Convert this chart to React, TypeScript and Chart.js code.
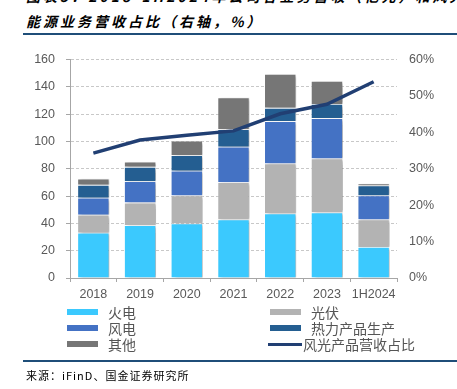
import React, { useEffect, useRef } from "react";
import { Chart, registerables } from "chart.js";

Chart.register(...registerables);

const categories = ["2018", "2019", "2020", "2021", "2022", "2023", "1H2024"];
const thermal = [33.2, 38.6, 40.0, 42.9, 47.2, 48.0, 22.7];
const solar = [13.1, 16.6, 20.5, 27.2, 36.7, 39.5, 20.2];
const wind = [12.5, 15.6, 18.1, 26.0, 31.0, 29.6, 17.6];
const heat = [9.4, 10.6, 11.3, 12.8, 9.7, 10.4, 7.2];
const other = [4.6, 3.7, 10.6, 23.4, 24.8, 16.8, 1.5];
const windSolarShare = [34.3, 37.9, 39.2, 40.4, 45.1, 47.7, 53.9];
const leftTicks = [0, 20, 40, 60, 80, 100, 120, 140, 160];
const rightTicks = [0, 10, 20, 30, 40, 50, 60];

const C_THERMAL = "#3BC9FE";
const C_SOLAR = "#B3B3B3";
const C_WIND = "#4472C4";
const C_HEAT = "#245E91";
const C_OTHER = "#767676";
const C_LINE = "#213F73";
const RULE = "#1F4E79";

const shadowPlugin = {
  id: "barShadow",
  beforeDatasetDraw(chart: any, args: any) {
    if (args.meta.type === "bar") {
      const ctx = chart.ctx;
      ctx.save();
      ctx.shadowColor = "rgba(0,0,0,0.28)";
      ctx.shadowBlur = 3;
      ctx.shadowOffsetX = 3;
      ctx.shadowOffsetY = 1;
    }
  },
  afterDatasetDraw(chart: any, args: any) {
    if (args.meta.type === "bar") {
      chart.ctx.restore();
    }
  },
};

export default function App() {
  const ref = useRef<HTMLCanvasElement | null>(null);

  useEffect(() => {
    document.body.style.margin = "0";
    const barDs = (label: string, data: number[], color: string) => ({
      type: "bar" as const,
      label,
      data,
      backgroundColor: color,
      borderColor: "rgba(255,255,255,0.45)",
      borderWidth: 0.8,
      yAxisID: "y",
      order: 2,
      stack: "s",
      categoryPercentage: 1,
      barPercentage: 0.685,
    });
    const chart = new Chart(ref.current as HTMLCanvasElement, {
      type: "bar",
      data: {
        labels: categories,
        datasets: [
          barDs("火电", thermal, C_THERMAL),
          barDs("光伏", solar, C_SOLAR),
          barDs("风电", wind, C_WIND),
          barDs("热力产品生产", heat, C_HEAT),
          barDs("其他", other, C_OTHER),
          {
            type: "line" as const,
            label: "风光产品营收占比",
            data: windSolarShare,
            borderColor: C_LINE,
            borderWidth: 3.5,
            pointRadius: 0,
            tension: 0,
            yAxisID: "y1",
            order: 0,
          } as any,
        ],
      },
      options: {
        animation: false,
        responsive: false,
        maintainAspectRatio: false,
        layout: { padding: { top: 17, left: 0, right: 0, bottom: 0 } },
        plugins: {
          legend: { display: false },
          tooltip: { enabled: false },
          title: { display: false },
        },
        scales: {
          x: {
            stacked: true,
            offset: true,
            grid: {
              display: true,
              offset: true,
              drawOnChartArea: false,
              drawTicks: true,
              tickLength: 4,
              color: "#A6A6A6",
            },
            border: { display: true, color: "#A6A6A6", width: 1 },
            ticks: {
              color: "#595959",
              font: { family: "Liberation Sans, Arial, sans-serif", size: 12.5 },
              padding: 5,
              maxRotation: 0,
              autoSkip: false,
            },
            afterFit(scale: any) {
              scale.height = 32;
            },
          },
          y: {
            stacked: true,
            position: "left",
            min: 0,
            max: 160,
            afterBuildTicks(scale: any) {
              scale.ticks = leftTicks.map((v) => ({ value: v }));
            },
            grid: {
              color: (c: any) => (c.tick && c.tick.value === 0 ? "rgba(0,0,0,0)" : "#C8C8C8"),
              lineWidth: 1,
              drawTicks: true,
              tickLength: 4,
              tickColor: "#A6A6A6",
            },
            border: { display: true, color: "#A6A6A6", width: 1, dash: [3, 2] },
            ticks: {
              color: "#595959",
              font: { family: "Liberation Sans, Arial, sans-serif", size: 12.5 },
              padding: 11,
            },
            afterFit(scale: any) {
              scale.width = 70;
            },
          },
          y1: {
            position: "right",
            min: 0,
            max: 60,
            afterBuildTicks(scale: any) {
              scale.ticks = rightTicks.map((v) => ({ value: v }));
            },
            grid: { drawOnChartArea: false, drawTicks: false },
            border: { display: false },
            ticks: {
              color: "#595959",
              font: { family: "Liberation Sans, Arial, sans-serif", size: 12.5 },
              padding: 12,
              callback: (v: any) => v + "%",
            },
            afterFit(scale: any) {
              scale.width = 60;
            },
          },
        },
      } as any,
      plugins: [shadowPlugin],
    });
    return () => chart.destroy();
  }, []);

  const legendText: React.CSSProperties = {
    position: "absolute",
    fontFamily: "'Noto Sans CJK SC', sans-serif",
    fontSize: 14,
    color: "#555555",
    lineHeight: "16px",
    whiteSpace: "nowrap",
  };
  const swatch = (x: number, y: number, color: string) => (
    <div style={{ position: "absolute", left: x, top: y - 3, width: 31, height: 6, background: color }} />
  );
  const label = (x: number, y: number, text: string) => (
    <div style={{ ...legendText, left: x, top: y - 8 }}>{text}</div>
  );
  const titleStyle: React.CSSProperties = {
    position: "absolute",
    left: 26,
    fontFamily: "'Noto Sans CJK SC', sans-serif",
    fontSize: 14,
    fontWeight: 700,
    fontStyle: "italic",
    letterSpacing: 3,
    color: "#000",
    whiteSpace: "nowrap",
  };

  return (
    <div
      style={{
        position: "absolute",
        left: 0,
        top: 0,
        width: 457,
        height: 389,
        background: "#fff",
        overflow: "hidden",
      }}
    >
      <div style={{ ...titleStyle, top: -11, lineHeight: "15px" }}>
        图表5：2018-1H2024年公司各业务营收（亿元）和风光
      </div>
      <div style={{ ...titleStyle, top: 13, lineHeight: "16px" }}>
        能源业务营收占比（右轴，%）
      </div>
      <div style={{ position: "absolute", left: 23, top: 33, width: 434, height: 1.5, background: RULE }} />

      <canvas
        ref={ref}
        width={457}
        height={270}
        style={{ position: "absolute", left: 0, top: 40, width: 457, height: 270 }}
      />

      {swatch(67, 312, C_THERMAL)}
      {label(108, 312, "火电")}
      {swatch(67, 328, C_WIND)}
      {label(108, 328, "风电")}
      {swatch(67, 344, C_OTHER)}
      {label(108, 344, "其他")}
      {swatch(270, 312, C_SOLAR)}
      {label(311, 312, "光伏")}
      {swatch(270, 328, C_HEAT)}
      {label(311, 328, "热力产品生产")}
      <div style={{ position: "absolute", left: 268, top: 342.5, width: 34, height: 3, background: C_LINE }} />
      {label(303, 344, "风光产品营收占比")}

      <div style={{ position: "absolute", left: 23, top: 360, width: 434, height: 1.5, background: RULE }} />
      <div
        style={{
          position: "absolute",
          left: 26,
          top: 368,
          fontFamily: "'Noto Sans CJK SC', sans-serif",
          fontSize: 11,
          letterSpacing: 1,
          lineHeight: "14px",
          color: "#000",
          whiteSpace: "nowrap",
        }}
      >
        来源：iFinD、国金证券研究所
      </div>
    </div>
  );
}
